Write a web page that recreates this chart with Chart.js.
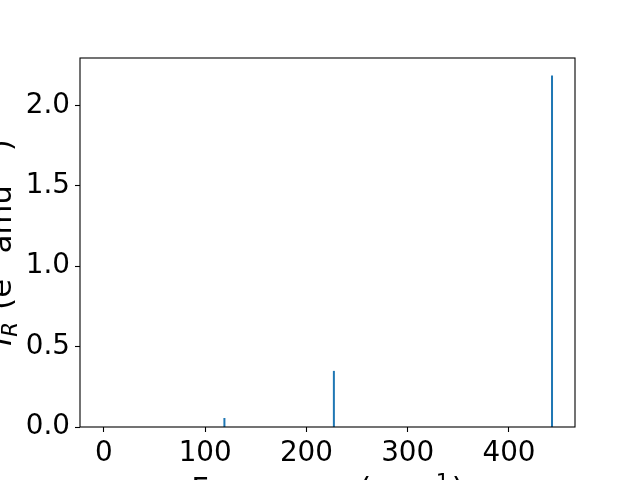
<!DOCTYPE html>
<html>
<head>
<meta charset="utf-8">
<script src="https://cdn.jsdelivr.net/npm/chart.js@4.4.1/dist/chart.umd.min.js"></script>
<style>
  html, body { margin: 0; padding: 0; background: #ffffff; }
  #wrap { width: 640px; height: 480px; position: relative; }
</style>
</head>
<body>
<div id="wrap"><canvas id="c" width="640" height="480"></canvas></div>
<script>
// Data
const frequencies = [119.0, 227.1, 442.5];      // cm^-1
const intensities = [0.056, 0.349, 2.186];      // IR intensity
const yTickStep = 0.5;
const xTickStep = 100;

const FONT = "'DejaVu Sans', sans-serif";
const FS = 27.8;      // tick labels
const FS_T = 30.6;    // axis titles
const LINE_COLOR = '#1f77b4';

// axis titles as text runs (main text, sub/superscripts)
const xTitleRuns = [
  { t: 'Frequency (cm' },
  { t: '\u22121', s: 0.7, rise: 0.35, gap: 0.08 },
  { t: ')' }
];
const yTitleRuns = [
  { t: 'I', italic: true },
  { t: 'R', italic: true, s: 0.7, rise: -0.2, gap: 0.08 },
  { t: ' (e' },
  { t: '2', s: 0.7, rise: 0.35, gap: 0.08 },
  { t: ' amu' },
  { t: '\u22121', s: 0.7, rise: 0.35, gap: 0.08 },
  { t: ')' }
];

const datasets = frequencies.map((f, i) => ({
  data: [{x: f, y: 0}, {x: f, y: intensities[i]}],
  borderColor: LINE_COLOR,
  borderWidth: 2,
  pointRadius: 0,
  fill: false,
  tension: 0
}));

function runFont(r) {
  return (r.italic ? 'italic ' : '') + (FS_T * (r.s || 1)) + 'px ' + FONT;
}
function runsWidth(ctx, runs) {
  let w = 0;
  runs.forEach(r => { ctx.font = runFont(r); w += ctx.measureText(r.t).width + (r.gap || 0) * FS_T; });
  return w;
}
function drawRuns(ctx, runs, x0) {
  let x = x0;
  runs.forEach(r => {
    ctx.font = runFont(r);
    ctx.fillText(r.t, x, -(r.rise || 0) * FS_T);
    x += ctx.measureText(r.t).width + (r.gap || 0) * FS_T;
  });
}

const frame = {
  id: 'frame',
  afterDraw(chart) {
    const {ctx, chartArea: a} = chart;
    ctx.save();
    ctx.strokeStyle = '#000';
    ctx.lineWidth = 1.1;
    ctx.strokeRect(a.left, a.top, a.right - a.left, a.bottom - a.top);

    ctx.fillStyle = '#000';
    ctx.textBaseline = 'alphabetic';
    ctx.textAlign = 'left';
    // x title
    const cx = (a.left + a.right) / 2;
    const wx = runsWidth(ctx, xTitleRuns);
    ctx.save();
    ctx.translate(cx, 499.3);
    drawRuns(ctx, xTitleRuns, -wx / 2);
    ctx.restore();
    // y title
    const wy = runsWidth(ctx, yTitleRuns);
    ctx.save();
    ctx.translate(11, (a.top + a.bottom) / 2);
    ctx.rotate(-Math.PI / 2);
    drawRuns(ctx, yTitleRuns, -wy / 2);
    ctx.restore();
    ctx.restore();
  }
};

new Chart(document.getElementById('c'), {
  type: 'line',
  data: { datasets },
  plugins: [frame],
  options: {
    responsive: false,
    animation: false,
    devicePixelRatio: 1,
    layout: { padding: { left: 0, top: 58, right: 65, bottom: 0 } },
    plugins: { legend: { display: false }, tooltip: { enabled: false } },
    scales: {
      x: {
        type: 'linear',
        min: -23.6,
        max: 465.2,
        afterFit(s) { s.height = 53; },
        border: { display: false },
        grid: { drawOnChartArea: false, drawTicks: true, tickLength: 5, color: '#000', tickWidth: 1.1 },
        ticks: {
          stepSize: xTickStep,
          includeBounds: false,
          color: '#000',
          padding: 5,
          maxRotation: 0,
          font: { family: FONT, size: FS },
          callback: v => String(v)
        },
        title: { display: false }
      },
      y: {
        type: 'linear',
        min: 0,
        max: 2.295,
        afterFit(s) { s.width = 80; },
        border: { display: false },
        grid: { drawOnChartArea: false, drawTicks: true, tickLength: 5, color: '#000', tickWidth: 1.1 },
        ticks: {
          stepSize: yTickStep,
          includeBounds: false,
          color: '#000',
          padding: 5,
          font: { family: FONT, size: FS },
          callback: v => Number(v).toFixed(1)
        },
        title: { display: false }
      }
    }
  }
});
</script>
</body>
</html>
